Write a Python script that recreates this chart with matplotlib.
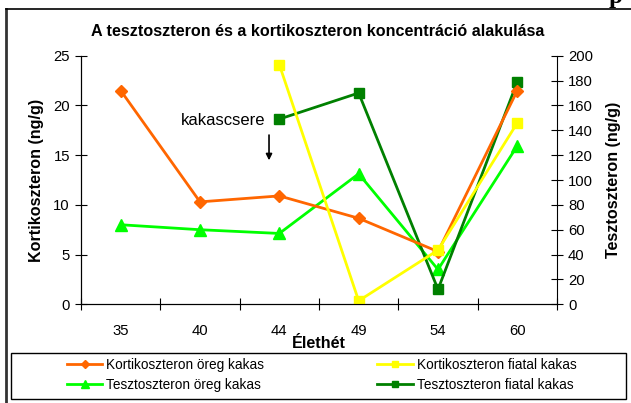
import matplotlib.pyplot as plt
import numpy as np
from matplotlib.lines import Line2D
from matplotlib.patches import Rectangle

plt.rcParams['font.family'] = ['Liberation Sans', 'DejaVu Sans']

# week of life
weeks = ['35', '40', '44', '49', '54', '60']
# corticosterone, ng/g (left axis)
kort_oreg = [21.5, 10.3, 10.9, 8.65, 5.3, 21.5]
kort_fiatal = [np.nan, np.nan, 24.1, 0.35, 5.45, 18.25]
# testosterone, ng/g (right axis)
teszt_oreg = [64, 60, 57, 105, 28, 127.5]
teszt_fiatal = [np.nan, np.nan, 149, 170, 12, 179]

W, H = 631, 403
fig = plt.figure(figsize=(W / 100, H / 100), dpi=100)

def fx(px):
    return px / W

def fy(py):
    return 1 - py / H

ax = fig.add_axes([fx(81), fy(304.3), fx(557) - fx(81), fy(55.7) - fy(304.3)])
ax2 = ax.twinx()

x = np.arange(len(weeks))
lw = 2.0
l1, = ax.plot(x, kort_oreg, color='#FF6600', lw=lw, marker='D', ms=6.5, label='Kortikoszteron öreg kakas')
l2, = ax.plot(x, kort_fiatal, color='#FFFF00', lw=lw, marker='s', ms=7, label='Kortikoszteron fiatal kakas')
l3, = ax2.plot(x, teszt_oreg, color='#00FF00', lw=lw, marker='^', ms=8, label='Tesztoszteron öreg kakas')
l4, = ax2.plot(x, teszt_fiatal, color='#008000', lw=lw, marker='s', ms=7, label='Tesztoszteron fiatal kakas')
# draw corticosterone on top of the twin axis
ax.set_zorder(ax2.get_zorder() + 1)
ax.patch.set_visible(False)

ax.set_xlim(-0.5, len(weeks) - 0.5)
ax.set_ylim(0, 25)
ax2.set_ylim(0, 200)
ax.set_yticks(np.arange(0, 26, 5))
ax2.set_yticks(np.arange(0, 201, 20))
ax.set_xticks(x)
ax.set_xticklabels(weeks)
ax.set_xticks(np.arange(-0.5, len(weeks), 1), minor=True)

fs = 10.7
ax.tick_params(axis='x', which='major', length=0, pad=14, labelsize=fs)
ax.tick_params(axis='x', which='minor', direction='inout', length=8, width=0.8)
ax.tick_params(axis='y', direction='inout', length=8, width=0.8, pad=4, labelsize=fs)
ax2.tick_params(axis='y', direction='inout', length=8, width=0.8, pad=4, labelsize=fs)

for a in (ax, ax2):
    a.spines['top'].set_visible(False)
    for s in a.spines.values():
        s.set_linewidth(0.8)
ax.spines['right'].set_visible(False)

lfs = 11.6
ax.set_ylabel('Kortikoszteron (ng/g)', fontsize=lfs, fontweight='bold', labelpad=7)
ax2.set_ylabel('Tesztoszteron (ng/g)', fontsize=lfs, fontweight='bold', labelpad=9)
fig.text(fx(319), fy(343), 'Élethét', ha='center', va='center', fontsize=lfs, fontweight='bold')
fig.text(fx(318), fy(31), 'A tesztoszteron és a kortikoszteron koncentráció alakulása',
         ha='center', va='center', fontsize=11.6, fontweight='bold')

ax.annotate('', xy=(1.87, 14.2), xytext=(1.87, 17.3),
            arrowprops=dict(arrowstyle='-|>', color='black', lw=1.2, mutation_scale=9))
ax.text(1.29, 18.5, 'kakascsere', ha='center', va='center', fontsize=12)

# legend box
fig.add_artist(Rectangle((fx(11), fy(399)), fx(626) - fx(11), fy(353) - fy(399),
                         transform=fig.transFigure, fill=False, ec='black', lw=1))
fig.legend(handles=[l1, l3, l2, l4], ncol=2, frameon=False, fontsize=9.8,
           loc='center left', bbox_to_anchor=(fx(67), fy(375)), markerscale=0.7,
           handlelength=2.6, handletextpad=0.3, columnspacing=8.3, labelspacing=0.45,
           borderaxespad=0, borderpad=0)

# outer frame and clipped text from page
fig.add_artist(Line2D([fx(6), fx(6)], [fy(9), 0], transform=fig.transFigure, color='#333333', lw=2))
fig.add_artist(Line2D([fx(6), 1], [fy(9), fy(9)], transform=fig.transFigure, color='black', lw=1.2))
fig.text(fx(609), fy(2.5), 'p', fontsize=18, fontweight='bold', family='Liberation Serif', va='baseline')

fig.savefig('out.png', dpi=100)
